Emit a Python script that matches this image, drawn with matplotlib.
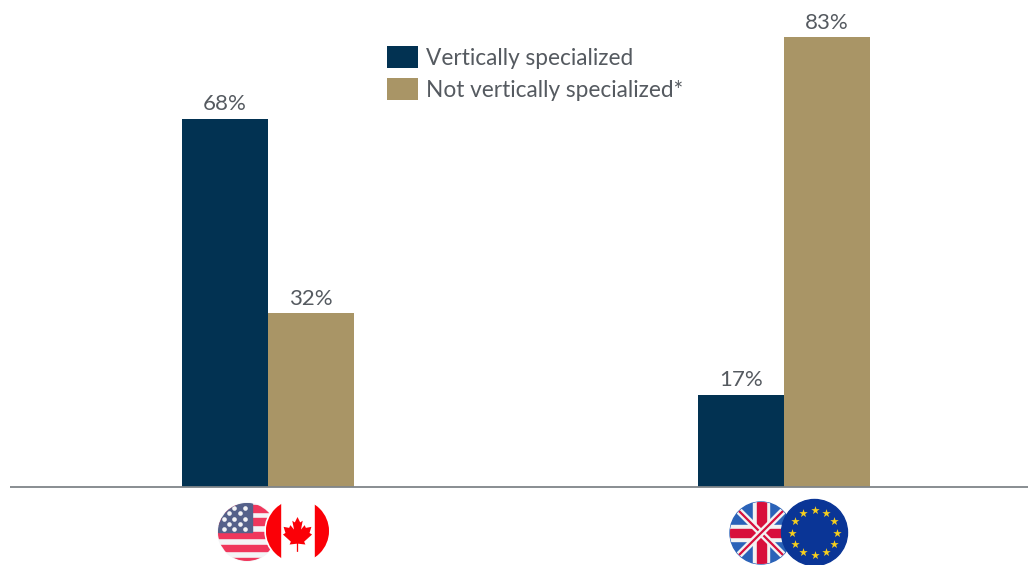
import numpy as np
import matplotlib
matplotlib.use("Agg")
import matplotlib.pyplot as plt
from matplotlib.patches import Circle, Rectangle, Polygon

regions = ["North America", "Europe"]
vertically = [68, 17]
not_vertically = [32, 83]
series_labels = ["Vertically specialized", "Not vertically specialized*"]

NAVY = "#023252"
TAN = "#A99566"
TEXT = "#555a60"

plt.rcParams["font.family"] = ["Lato", "DejaVu Sans"]

W, H = 1028, 565
fig = plt.figure(figsize=(W / 100, H / 100), dpi=100)
ax = fig.add_axes([0, 0, 1, 1])

# one percent is 5.41 px, baseline sits at y=486.5 px
px_per_pct = 5.41
base = 486.5
ax.set_ylim(-(H - base) / px_per_pct, base / px_per_pct)
ax.set_xlim(0, W)

centers = np.array([268, 784])
width = 86
bars1 = ax.bar(centers - width / 2, vertically, width, color=NAVY, label=series_labels[0])
bars2 = ax.bar(centers + width / 2, not_vertically, width, color=TAN, label=series_labels[1])

for bars in (bars1, bars2):
    for b in bars:
        ax.annotate(f"{b.get_height():.0f}%", (b.get_x() + b.get_width() / 2, b.get_height()),
                    xytext=(0, 3), textcoords="offset points", ha="center", va="bottom",
                    fontsize=16, color=TEXT)

ax.plot([10, W], [0, 0], color="#7f8589", linewidth=1.3, solid_capstyle="butt")

for s in ax.spines.values():
    s.set_visible(False)
ax.set_xticks([])
ax.set_yticks([])
ax.patch.set_visible(False)

leg = ax.legend(loc="upper left", bbox_to_anchor=(380.5 / W, 1 - 39 / H), frameon=False, fontsize=16.3,
                handlelength=1.37, handleheight=1.14, handletextpad=0.32, labelspacing=0.42,
                borderpad=0.3, borderaxespad=0, labelcolor=TEXT)

# flags below the baseline, drawn in pixel coordinates
fx = fig.add_axes([0, 0, 1, 1], zorder=3)
fx.set_xlim(0, W)
fx.set_ylim(H, 0)
fx.axis("off")
fx.set_aspect("equal")


def clip_circle(cx, cy, r):
    return Circle((cx, cy), r, transform=fx.transData)


def us_flag(cx, cy, r):
    clip = clip_circle(cx, cy, r)
    fx.add_patch(Circle((cx, cy), r, color="#f4f4f6"))
    for i in range(5):
        p = Rectangle((cx - r, cy - r + 2 + i * 13.3), 2 * r, 6.5, color="#f0375c")
        fx.add_patch(p)
        p.set_clip_path(clip)
    canton = Rectangle((cx - r, cy - r), r * 1.17, r, color="#55618a")
    fx.add_patch(canton)
    canton.set_clip_path(clip)
    # staggered rows of stars in the canton
    for j in range(5):
        row_y = cy - r + 5 + j * 5.3
        cols = [0, 1, 2] if j % 2 == 0 else [0.5, 1.5]
        for k in cols:
            st = fx.scatter([cx - r + 5.5 + k * 10.8], [row_y], s=11, marker="o", color="#f4f4f6",
                            linewidths=0, zorder=3)
            st.set_clip_path(clip)


LEAF = [(0, -1), (0.17, -0.68), (0.33, -0.78), (0.22, -0.26), (0.45, -0.52), (0.53, -0.36),
        (0.88, -0.42), (0.76, -0.06), (0.92, 0.03), (0.42, 0.45), (0.5, 0.62), (0.04, 0.57),
        (0.04, 1.05), (-0.04, 1.05), (-0.04, 0.57), (-0.5, 0.62), (-0.42, 0.45), (-0.92, 0.03),
        (-0.76, -0.06), (-0.88, -0.42), (-0.53, -0.36), (-0.45, -0.52), (-0.22, -0.26),
        (-0.33, -0.78), (-0.17, -0.68)]


def ca_flag(cx, cy, r):
    clip = clip_circle(cx, cy, r)
    fx.add_patch(Circle((cx, cy), r + 1, color="white", zorder=4))
    for x0 in (cx - r, cx + r * 0.56):
        p = Rectangle((x0, cy - r), r * 0.44, 2 * r, color="#fb0007", zorder=4)
        fx.add_patch(p)
        p.set_clip_path(clip)
    fx.add_patch(Polygon([(cx + a * 15.8, cy + 3 + b * 17) for a, b in LEAF], color="#fb0007",
                         linewidth=0, zorder=4))


def uk_flag(cx, cy, r):
    clip = clip_circle(cx, cy, r)
    fx.add_patch(Circle((cx, cy), r, color="#2a62b8"))
    arts = []
    for sign in (1, -1):
        arts += fx.plot([cx - r, cx + r], [cy - sign * r, cy + sign * r], color="#f2f2f2", lw=5,
                        solid_capstyle="butt")
        arts += fx.plot([cx - r, cx + r], [cy - sign * r, cy + sign * r], color="#d80f3c", lw=1.6,
                        solid_capstyle="butt")
    arts.append(fx.add_patch(Rectangle((cx - r, cy - 8), 2 * r, 16, color="#f2f2f2")))
    arts.append(fx.add_patch(Rectangle((cx - 8, cy - r), 16, 2 * r, color="#f2f2f2")))
    arts.append(fx.add_patch(Rectangle((cx - r, cy - 4), 2 * r, 8, color="#d80f3c")))
    arts.append(fx.add_patch(Rectangle((cx - 4.5, cy - r), 9, 2 * r, color="#d80f3c")))
    for a in arts:
        a.set_clip_path(clip)


def eu_flag(cx, cy, r):
    fx.add_patch(Circle((cx, cy), r, color="#0a3596", zorder=4))
    ang = np.deg2rad(np.arange(0, 360, 30))
    fx.scatter(cx + 0.67 * r * np.cos(ang), cy + 0.67 * r * np.sin(ang), s=40, marker="*",
               color="#f7cf1d", linewidths=0, zorder=5)


us_flag(247, 532, 29)
ca_flag(297.5, 531, 31.5)
uk_flag(761, 533, 31)
eu_flag(814.5, 532.5, 33)

fig.savefig("out.png", dpi=100, facecolor="white")
